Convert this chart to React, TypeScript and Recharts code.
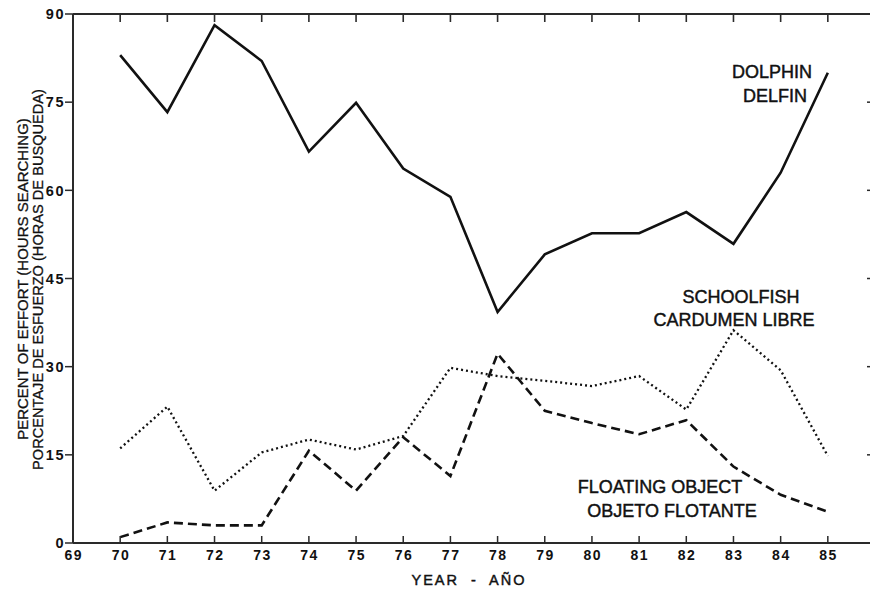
import React from "react";
import { LineChart, Line, XAxis, YAxis, ReferenceLine } from "recharts";

// Survey years (19xx)
const years = [70, 71, 72, 73, 74, 75, 76, 77, 78, 79, 80, 81, 82, 83, 84, 85];

// Percent of searching effort by set type
const dolphin = [83.0, 73.3, 88.1, 82.0, 66.6, 74.9, 63.7, 58.9, 39.3, 49.1, 52.7, 52.7, 56.3, 50.9, 63.0, 80.0];
const schoolfish = [16.1, 23.2, 8.9, 15.4, 17.6, 15.9, 18.2, 29.8, 28.4, 27.6, 26.7, 28.4, 22.7, 36.2, 29.4, 14.8];
const floatingObject = [1.0, 3.5, 3.0, 3.0, 15.7, 8.9, 18.0, 11.4, 32.2, 22.5, 20.4, 18.5, 20.9, 13.0, 8.2, 5.3];

// Axis ticks
const xTicks = [69, 70, 71, 72, 73, 74, 75, 76, 77, 78, 79, 80, 81, 82, 83, 84, 85];
const yTicks = [0, 15, 30, 45, 60, 75, 90];
const innerYTicks = [15, 30, 45, 60, 75];
const X_MIN = 69;
const X_MAX = 86;
const Y_MIN = 0;
const Y_MAX = 90;

const data = years.map((yr, i) => ({
  year: yr,
  dolphin: dolphin[i],
  schoolfish: schoolfish[i],
  floating: floatingObject[i],
}));

const FONT = '"Liberation Sans", Arial, Helvetica, sans-serif';
const INK = "#111";
const FRAME = "#2a2a2a";
const TICK_LEN = 8;

const BottomTick = (props: any) => {
  const { x, y, payload } = props;
  return (
    <g>
      <line x1={x} y1={y} x2={x} y2={y - 7} stroke={FRAME} strokeWidth={1.5} />
      <text
        x={x + 0.75}
        y={y + 17}
        textAnchor="middle"
        fontFamily={FONT}
        fontSize={14}
        fontWeight="bold"
        fill={INK}
        style={{ letterSpacing: "1.5px" }}
      >
        {payload.value}
      </text>
    </g>
  );
};

const LeftTick = (props: any) => {
  const { x, y, payload } = props;
  return (
    <g>
      <line x1={x - TICK_LEN} y1={y} x2={x} y2={y} stroke={FRAME} strokeWidth={1.5} />
      <text
        x={x - 8}
        y={y}
        dy="0.36em"
        textAnchor="end"
        fontFamily={FONT}
        fontSize={14.5}
        fontWeight="bold"
        fill={INK}
        style={{ letterSpacing: "1.5px" }}
      >
        {payload.value}
      </text>
    </g>
  );
};

// Short inward tick hanging from the top frame edge
const topTickShape = (p: any) => {
  const top = Math.min(p.y1, p.y2);
  return <line x1={p.x1} y1={top} x2={p.x1} y2={top + TICK_LEN} stroke={FRAME} strokeWidth={1.6} />;
};

// Short inward tick on the right frame edge
const rightTickShape = (p: any) => {
  const right = Math.max(p.x1, p.x2);
  return <line x1={right - TICK_LEN} y1={p.y1} x2={right} y2={p.y1} stroke={FRAME} strokeWidth={1.5} />;
};

const textStyle = {
  fontFamily: FONT,
  fill: INK,
  stroke: INK,
  strokeWidth: 0.45,
};

export default function App() {
  return (
    <div
      style={{
        position: "absolute",
        left: 0,
        top: 0,
        width: 870,
        height: 590,
        overflow: "hidden",
        background: "#fff",
      }}
    >
      <LineChart
        width={880}
        height={590}
        data={data}
        margin={{ top: 14, right: 5, bottom: 17, left: 13 }}
      >
        <XAxis
          xAxisId="bottom"
          dataKey="year"
          type="number"
          domain={[X_MIN, X_MAX]}
          ticks={xTicks}
          height={30}
          tickSize={0}
          tickMargin={0}
          tickLine={false}
          axisLine={{ stroke: FRAME, strokeWidth: 2 }}
          tick={<BottomTick />}
          interval={0}
        />
        <YAxis
          yAxisId="left"
          type="number"
          domain={[Y_MIN, Y_MAX]}
          ticks={yTicks}
          width={60}
          tickSize={0}
          tickMargin={0}
          tickLine={false}
          axisLine={{ stroke: FRAME, strokeWidth: 2 }}
          tick={<LeftTick />}
          interval={0}
        />

        {/* top and right frame edges with their inward ticks */}
        <ReferenceLine xAxisId="bottom" yAxisId="left" y={Y_MAX} stroke={FRAME} strokeWidth={2} ifOverflow="visible" />
        <ReferenceLine xAxisId="bottom" yAxisId="left" x={X_MAX} stroke={FRAME} strokeWidth={2} ifOverflow="visible" />
        {xTicks.slice(1).map((t) => (
          <ReferenceLine key={`tt${t}`} xAxisId="bottom" yAxisId="left" x={t} shape={topTickShape} ifOverflow="visible" />
        ))}
        {innerYTicks.map((t) => (
          <ReferenceLine key={`rt${t}`} xAxisId="bottom" yAxisId="left" y={t} shape={rightTickShape} ifOverflow="visible" />
        ))}

        <Line
          xAxisId="bottom"
          yAxisId="left"
          type="linear"
          dataKey="dolphin"
          stroke={INK}
          strokeWidth={2.6}
          dot={false}
          isAnimationActive={false}
        />
        <Line
          xAxisId="bottom"
          yAxisId="left"
          type="linear"
          dataKey="schoolfish"
          stroke={INK}
          strokeWidth={2.3}
          strokeDasharray="2 3"
          dot={false}
          isAnimationActive={false}
        />
        <Line
          xAxisId="bottom"
          yAxisId="left"
          type="linear"
          dataKey="floating"
          stroke={INK}
          strokeWidth={2.6}
          strokeDasharray="9 5"
          dot={false}
          isAnimationActive={false}
        />
      </LineChart>

      <svg
        width={870}
        height={590}
        style={{ position: "absolute", left: 0, top: 0, pointerEvents: "none" }}
      >
        {/* axis titles */}
        <text
          {...textStyle}
          strokeWidth={0.3}
          x={22}
          y={279}
          fontSize={15}
          textAnchor="middle"
          dominantBaseline="central"
          transform="rotate(-90 22 279)"
        >
          PERCENT OF EFFORT (HOURS SEARCHING)
        </text>
        <text
          {...textStyle}
          strokeWidth={0.3}
          x={37.5}
          y={279.5}
          fontSize={14.6}
          textAnchor="middle"
          dominantBaseline="central"
          transform="rotate(-90 37.5 279.5)"
        >
          PORCENTAJE DE ESFUERZO (HORAS DE BUSQUEDA)
        </text>
        <text
          {...textStyle}
          x={469}
          y={585}
          fontSize={14.5}
          textAnchor="middle"
          style={{ letterSpacing: "2px", whiteSpace: "pre" }}
        >
          {"YEAR  -  AÑO"}
        </text>

        {/* series annotations */}
        <text {...textStyle} x={772} y={78} fontSize={18} textAnchor="middle">DOLPHIN</text>
        <text {...textStyle} x={775} y={102} fontSize={18} textAnchor="middle">DELFIN</text>
        <text {...textStyle} x={741} y={303} fontSize={18} textAnchor="middle">SCHOOLFISH</text>
        <text {...textStyle} x={734} y={326} fontSize={18} textAnchor="middle">CARDUMEN LIBRE</text>
        <text {...textStyle} x={660} y={493} fontSize={18} textAnchor="middle">FLOATING OBJECT</text>
        <text {...textStyle} x={672} y={517} fontSize={18} textAnchor="middle">OBJETO FLOTANTE</text>
      </svg>
    </div>
  );
}
